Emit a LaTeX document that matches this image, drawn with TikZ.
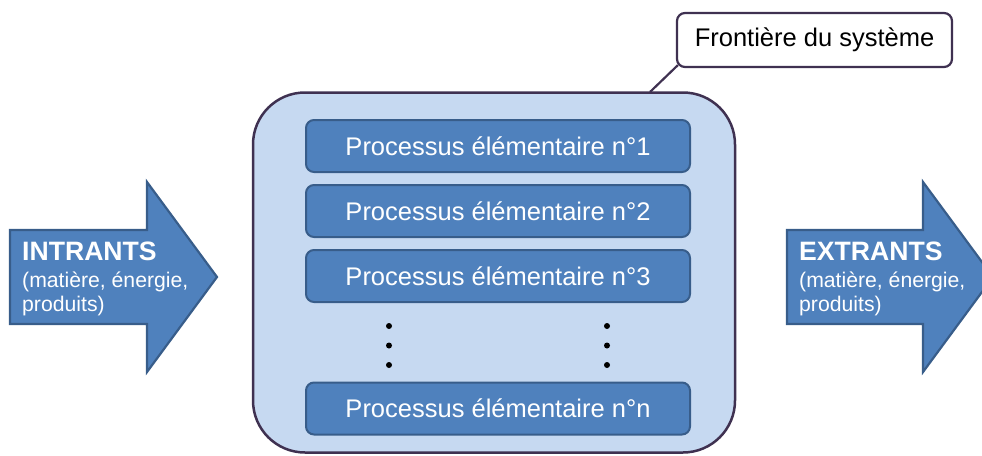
\documentclass[tikz,border=0pt]{standalone}
\usepackage{fontspec}
\setmainfont{Liberation Sans}
\definecolor{arrowfill}{HTML}{4F81BD}
\definecolor{arrowline}{HTML}{385D8A}
\definecolor{sysfill}{HTML}{C6D9F1}
\definecolor{sysline}{HTML}{3F3151}
\begin{document}
\begin{tikzpicture}[x=1pt,y=-1pt,
  bigarrow/.style={fill=arrowfill,draw=arrowline,line width=2.2pt,line join=miter},
  procbox/.style={rectangle,rounded corners=8pt,fill=arrowfill,draw=arrowline,line width=2pt,
    minimum width=384pt,minimum height=52pt,text=white,font=\fontsize{25.5}{27}\selectfont},
  arrowtext/.style={anchor=north west,align=left,text=white,inner sep=0pt,
    font=\fontsize{21.2}{24}\selectfont},
  dot/.style={circle,fill=black,inner sep=0pt,minimum size=6pt},
  callout/.style={rectangle,rounded corners=8pt,fill=white,draw=sysline,line width=2.2pt,
    minimum width=275pt,minimum height=54pt,font=\fontsize{25.5}{27}\selectfont}]
\useasboundingbox (0,0) rectangle (982,455);
% system boundary
\begin{scope}
\clip (0,0) rectangle (982,455);
\node[rectangle,rounded corners=52pt,fill=sysfill,draw=sysline,line width=2.5pt,
  minimum width=482pt,minimum height=360pt] (sys) at (494,272.5) {};
% input arrow
\draw[bigarrow] (10,230) -- (147,230) -- (147,182) -- (217,277) -- (147,372) -- (147,324) -- (10,324) -- cycle;
% output arrow
\draw[bigarrow] (787,230) -- (923,230) -- (923,182) -- (993,277) -- (923,372) -- (923,324) -- (787,324) -- cycle;
\end{scope}
\node[arrowtext] (intr) at (22,242) {{\bfseries\fontsize{26.6}{28}\selectfont INTRANTS}\\[3pt](matière, énergie,\\produits)};
\node[arrowtext] (extr) at (799,242) {{\bfseries\fontsize{26.6}{28}\selectfont EXTRANTS}\\[3pt](matière, énergie,\\produits)};
% process boxes
\node[procbox] (p1) at (498,146) {Processus élémentaire n°1};
\node[procbox] (p2) at (498,211) {Processus élémentaire n°2};
\node[procbox] (p3) at (498,276) {Processus élémentaire n°3};
\node[procbox] (pn) at (498,408.5) {Processus élémentaire n°n};
% dots
\foreach \y [count=\i] in {326,345.5,365}{
  \node[dot] (dl\i) at (389,\y) {};
  \node[dot] (dr\i) at (607,\y) {};
}
% callout
\node[callout] (front) at (814.5,40) {Frontière du système};
\coordinate (touch) at (650,92);
\draw[sysline,line width=2.2pt] (front.south west) ++(2,-3) -- (touch);
\end{tikzpicture}
\end{document}
